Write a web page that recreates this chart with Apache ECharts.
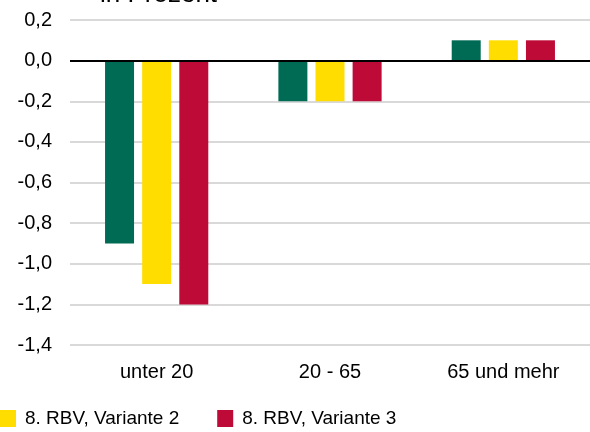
<!DOCTYPE html>
<html>
<head>
<meta charset="utf-8">
<script src="https://cdn.jsdelivr.net/npm/echarts@6/dist/echarts.min.js"></script>
<style>html,body{margin:0;padding:0;background:#fff}#c{width:590px;height:432px}</style>
</head>
<body>
<div id="c"></div>
<script>
var categories = ['unter 20', '20 - 65', '65 und mehr'];
var seriesNames = ['8. RBV, Variante 1', '8. RBV, Variante 2', '8. RBV, Variante 3'];
var variante1 = [-0.9, -0.2, 0.1];
var variante2 = [-1.1, -0.2, 0.1];
var variante3 = [-1.2, -0.2, 0.1];
var colors = ['#006B54', '#FFDD00', '#BE0A36'];
var titleText = 'in Prozent';

var chart = echarts.init(document.getElementById('c'), null, {renderer: 'canvas'});
var font = 'Liberation Sans, Arial, sans-serif';
function mk(i, data) {
  var s = {
    name: seriesNames[i], type: 'bar', data: data, barWidth: 29, barGap: '28%',
    itemStyle: {color: colors[i]}
  };
  if (i === 0) {
    s.markLine = {
      silent: true, symbol: 'none', label: {show: false},
      lineStyle: {color: '#000', width: 2, type: 'solid'},
      data: [{yAxis: 0}]
    };
  }
  return s;
}
chart.setOption({
  animation: false,
  title: {text: titleText, left: 100, top: -18, padding: 0,
    textStyle: {fontFamily: font, fontSize: 26, fontWeight: 'normal', color: '#000'}},
  legend: {
    data: [seriesNames[1], seriesNames[2]],
    left: 0, top: 409, padding: 0, itemWidth: 16, itemHeight: 17, itemGap: 38,
    icon: 'rect',
    textStyle: {fontFamily: font, fontSize: 19, color: '#000', padding: [0, 0, 0, 4]}
  },
  grid: {left: 70, right: -2, top: 20, bottom: 87},
  xAxis: {
    type: 'category', data: categories,
    axisLine: {show: false}, axisTick: {show: false},
    axisLabel: {fontFamily: font, fontSize: 20, color: '#000', margin: 17}
  },
  yAxis: {
    type: 'value', min: -1.4, max: 0.2, interval: 0.2,
    axisLine: {show: false}, axisTick: {show: false},
    splitLine: {lineStyle: {color: '#d9d9d9', width: 2}},
    axisLabel: {fontFamily: font, fontSize: 20, color: '#000', margin: 18,
      formatter: function (v) { return v.toFixed(1).replace('.', ','); }}
  },
  series: [mk(0, variante1), mk(1, variante2), mk(2, variante3)]
});
</script>
</body>
</html>
